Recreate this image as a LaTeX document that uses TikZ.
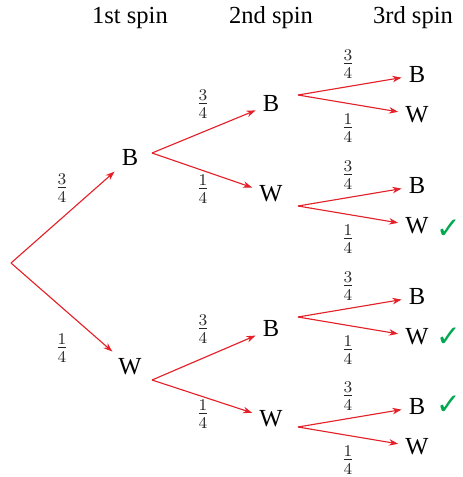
\documentclass[tikz,border=0pt]{standalone}
\usepackage{amsmath}
\usepackage{fontspec}
\setmainfont{Liberation Serif}
\newfontfamily\tickfont{DejaVu Sans}
\usepackage{tikz}
\usetikzlibrary{arrows.meta}
\definecolor{branchred}{RGB}{228,32,40}
\definecolor{tickgreen}{RGB}{0,168,80}
\tikzset{
	branch/.style={branchred, line width=0.55pt, -{Stealth[length=4.5pt,width=3.2pt]}},
	prob/.style={inner sep=0pt, black!85},
	tick/.style={tickgreen, font=\tickfont\Large}
}
\begin{document}
\begin{tikzpicture}[x=0.0172cm,y=-0.0172cm,font=\large]
		\useasboundingbox (0,0) rectangle (463,477);
		\draw (130,18) node(h1){1st spin} (271,18) node(h2){2nd spin} (413,18) node(h3){3rd spin};
		% first spin
		\coordinate (r) at (11,263);
		\node (b) at (130,158) {B};
		\node (w) at (130,367) {W};
		\draw[branch] (r) to (b);
		\draw[branch] (r) to (w);
		\draw (62,188) node[prob](pb){$\frac34$};
		\draw (62,348) node[prob](pw){$\frac14$};
		% second spin
		\coordinate (b-o) at (152,153);
		\coordinate (w-o) at (152,380);
		\foreach \p/\y in {b/0,w/225}
		{
		\node (\p b) at (271,104+\y) {B};
		\node (\p w) at (271,194+\y) {W};
		\draw[branch] (\p-o) to (\p b);
		\draw[branch] (\p-o) to (\p w);
		\draw (203,104+\y) node[prob](p\p b){$\frac34$};
		\draw (203,189+\y) node[prob](p\p w){$\frac14$};
		}
		% third spin
		\foreach \p/\y in {bb/0,bw/111,wb/222,ww/332}
		{
		\coordinate (\p-o) at (298,95+\y);
		\node (\p b) at (417,75+\y) {B};
		\node (\p w) at (417,115+\y) {W};
		\draw[branch] (\p-o) to (\p b);
		\draw[branch] (\p-o) to (\p w);
		\draw (348,64+\y) node[prob](p\p b){$\frac34$};
		\draw (348,128+\y) node[prob](p\p w){$\frac14$};
		}
		\node[tick] (t1) at (449,229) {✓};
		\node[tick] (t2) at (449,337) {✓};
		\node[tick] (t3) at (449,405) {✓};
	\end{tikzpicture}
\end{document}
